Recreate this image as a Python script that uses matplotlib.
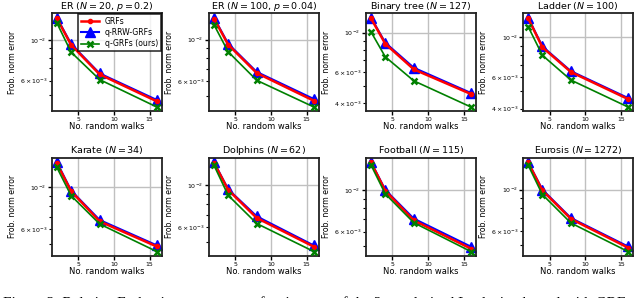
import matplotlib
matplotlib.use("Agg")
import matplotlib.pyplot as plt

# number of random walks
n_walks = [2, 4, 8, 16]

titles = [
    "ER ($N = 20$, $p = 0.2$)",
    "ER ($N = 100$, $p = 0.04$)",
    "Binary tree ($N = 127$)",
    "Ladder ($N = 100$)",
    "Karate ($N = 34$)",
    "Dolphins ($N = 62$)",
    "Football ($N = 115$)",
    "Eurosis ($N = 1272$)",
]

# Frobenius norm errors
grfs = [
    [0.01310, 0.00940, 0.00648, 0.00462],
    [0.01300, 0.00940, 0.00662, 0.00470],
    [0.01205, 0.00865, 0.00620, 0.00450],
    [0.01280, 0.00880, 0.00640, 0.00452],
    [0.01345, 0.00955, 0.00660, 0.00485],
    [0.01315, 0.00945, 0.00673, 0.00475],
    [0.01400, 0.00990, 0.00688, 0.00487],
    [0.01400, 0.00990, 0.00695, 0.00487],
]
q_rrw_grfs = [
    [0.01325, 0.00950, 0.00656, 0.00470],
    [0.01315, 0.00951, 0.00671, 0.00480],
    [0.01217, 0.00877, 0.00633, 0.00456],
    [0.01290, 0.00890, 0.00647, 0.00458],
    [0.01365, 0.00963, 0.00671, 0.00492],
    [0.01324, 0.00952, 0.00686, 0.00482],
    [0.01406, 0.01000, 0.00703, 0.00499],
    [0.01406, 0.01000, 0.00703, 0.00494],
]
q_grfs = [
    [0.01240, 0.00857, 0.00607, 0.00430],
    [0.01205, 0.00861, 0.00605, 0.00435],
    [0.01010, 0.00730, 0.00534, 0.00380],
    [0.01150, 0.00794, 0.00577, 0.00408],
    [0.01280, 0.00905, 0.00639, 0.00456],
    [0.01276, 0.00885, 0.00629, 0.00448],
    [0.01356, 0.00953, 0.00669, 0.00470],
    [0.01356, 0.00941, 0.00661, 0.00464],
]

fig, axes = plt.subplots(2, 4, figsize=(6.4, 2.98), dpi=100)
fig.subplots_adjust(left=0.081, right=0.989, top=0.956, bottom=0.141,
                    wspace=0.43, hspace=0.47)

for i, ax in enumerate(axes.flat):
    ax.plot(n_walks, grfs[i], color="red", marker="o", markersize=3,
            linewidth=1.8, label="GRFs", zorder=3)
    ax.plot(n_walks, q_rrw_grfs[i], color="blue", marker="^", markersize=6.5,
            linewidth=1.5, label="q-RRW-GRFs", zorder=2)
    ax.plot(n_walks, q_grfs[i], color="green", marker="x", markersize=5,
            markeredgewidth=1.8, linewidth=1.2, label="q-GRFs (ours)", zorder=4)
    ax.set_yscale("log")
    ax.set_title(titles[i], fontsize=6.8, pad=3)
    ax.set_xlabel("No. random walks", fontsize=6, labelpad=0)
    ax.set_ylabel("Frob. norm error", fontsize=5.6, labelpad=2)
    ax.set_xticks([5, 10, 15])
    ax.grid(True, which="major", color="#c0c0c0", linewidth=1)
    ax.set_axisbelow(True)
    ax.tick_params(axis="both", which="both", labelsize=4.5, pad=1)
    ax.tick_params(axis="both", which="major", length=3, width=1)
    ax.tick_params(axis="y", which="minor", length=2, width=0.8)
    for s in ax.spines.values():
        s.set_linewidth(1.3)
        s.set_color("#222222")

leg = axes[0, 0].legend(loc="upper right", fontsize=5.6, frameon=True,
                        fancybox=False, edgecolor="black", borderpad=0.35,
                        labelspacing=0.3, handlelength=2.3,
                        borderaxespad=0.1)
leg.get_frame().set_linewidth(1.2)

# caption of the source figure, cut off at the bottom edge
fig.text(0.005, 0.006,
         "Figure 3: Relative Frobenius norm error of estimators of the 2-regularised Laplacian kernel with GRFs,",
         fontsize=11, family="Liberation Serif", va="top", ha="left")

fig.savefig("out.png", dpi=100)
